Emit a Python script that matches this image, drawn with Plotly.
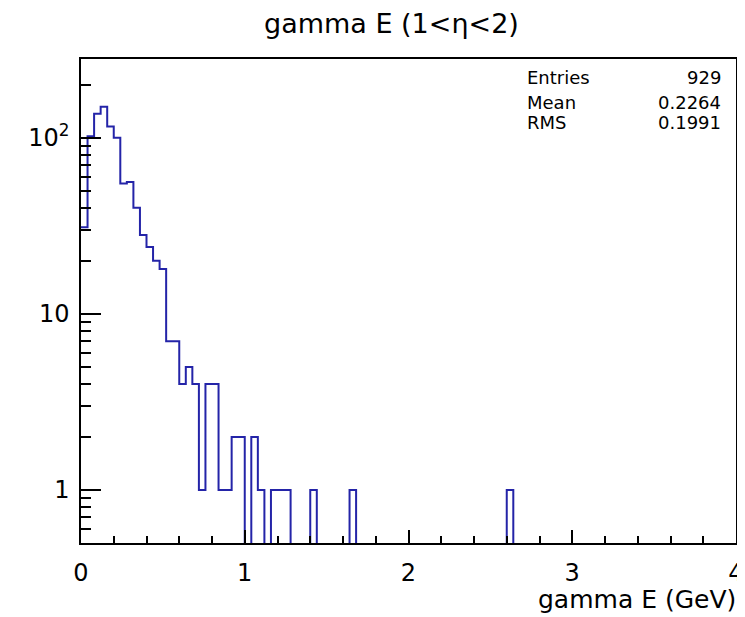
import numpy as np
import plotly.graph_objects as go

# ---- data ----
x_min, x_max, n_bins = 0.0, 4.0, 100
counts = [31, 102, 137, 150, 116, 100, 55, 56, 40, 28,
          24, 20, 18, 7, 7, 4, 5, 4, 1, 4,
          4, 1, 1, 2, 2, 0, 2, 1, 0, 1,
          1, 1, 0, 0, 0, 1, 0, 0, 0, 0,
          0, 1, 0, 0, 0, 0, 0, 0, 0, 0,
          0, 0, 0, 0, 0, 0, 0, 0, 0, 0,
          0, 0, 0, 0, 0, 1, 0, 0, 0, 0,
          0, 0, 0, 0, 0, 0, 0, 0, 0, 0,
          0, 0, 0, 0, 0, 0, 0, 0, 0, 0,
          0, 0, 0, 0, 0, 0, 0, 0, 0, 0]
x_tick_vals = [0, 1, 2, 3, 4]
x_tick_text = ["0", "1", "2", "3", "4"]
y_tick_vals = [1, 10, 100]
y_tick_text = ["1", "10", "10<sup>2</sup>"]
y_minor_vals = [0.6, 0.7, 0.8, 0.9, 2, 3, 4, 5, 6, 7, 8, 9,
                20, 30, 40, 50, 60, 70, 80, 90, 200]
stat_names = ["Entries", "Mean", "RMS"]
stat_values = ["929", "0.2264", "0.1991"]
title_text = "gamma E (1<η<2)"
x_title = "gamma E (GeV)"
y_lo, y_hi = 0.5, 280.0

# ---- build step outline ----
edges = np.linspace(x_min, x_max, n_bins + 1)
floor = 0.05  # empty bins drop below the frame (clipped)
ys = [c if c > 0 else floor for c in counts]
step_x = list(edges[:-1]) + [edges[-1]]
step_y = ys + [ys[-1]]

FONT = "DejaVu Sans"
PAGE_OFF = 8  # default browser body margin
fig = go.Figure()
fig.add_trace(go.Scatter(x=step_x, y=step_y, mode="lines",
                         line=dict(shape="hv", color="#2424a8", width=2),
                         hoverinfo="skip", showlegend=False))

fig.update_layout(
    width=745 - PAGE_OFF, height=617 - PAGE_OFF,
    margin=dict(l=81 - PAGE_OFF, r=9, t=59 - PAGE_OFF, b=74,
                autoexpand=False),
    paper_bgcolor="white", plot_bgcolor="white",
    showlegend=False,
    xaxis=dict(range=[x_min, x_max], showgrid=False, zeroline=False,
               automargin=False,
               showline=True, mirror=True, linecolor="black", linewidth=1.5,
               ticks="inside", ticklen=13, tickwidth=1.5, tickcolor="black",
               tickmode="array", tickvals=x_tick_vals, ticktext=x_tick_text,
               tickfont=dict(family=FONT, size=24, color="black"),
               ticklabelstandoff=7,
               minor=dict(ticks="inside", ticklen=7, tickwidth=1.5,
                          tickcolor="black", dtick=0.2, tick0=0, showgrid=False)),
    yaxis=dict(type="log", range=[np.log10(y_lo), np.log10(y_hi)],
               showgrid=False, zeroline=False,
               automargin=False,
               showline=True, mirror=True, linecolor="black", linewidth=1.5,
               ticks="inside", ticklen=20, tickwidth=1.5, tickcolor="black",
               tickmode="array", tickvals=y_tick_vals, ticktext=y_tick_text,
               tickfont=dict(family=FONT, size=24, color="black"),
               ticklabelstandoff=5,
               minor=dict(ticks="inside", ticklen=10, tickwidth=1.5,
                          tickcolor="black", tickmode="array",
                          tickvals=y_minor_vals, showgrid=False)),
)

annotations = [
    dict(text=title_text, x=0.474, y=1.074, xref="paper", yref="paper",
         xanchor="center", yanchor="middle", showarrow=False,
         font=dict(family=FONT, size=27, color="black")),
    dict(text=x_title, x=1.003, y=-0.116, xref="paper", yref="paper",
         xanchor="right", yanchor="middle", showarrow=False,
         font=dict(family=FONT, size=25, color="black")),
]
row_y = [0.961, 0.911, 0.869]
for name, val, yy in zip(stat_names, stat_values, row_y):
    annotations.append(dict(text=name, x=0.678, y=yy, xref="paper", yref="paper",
                            xanchor="left", yanchor="middle", showarrow=False,
                            font=dict(family=FONT, size=18, color="black")))
    annotations.append(dict(text=val, x=0.980, y=yy, xref="paper", yref="paper",
                            xanchor="right", yanchor="middle", showarrow=False,
                            font=dict(family=FONT, size=18, color="black")))
fig.update_layout(annotations=annotations)

fig.write_html("out.html")
